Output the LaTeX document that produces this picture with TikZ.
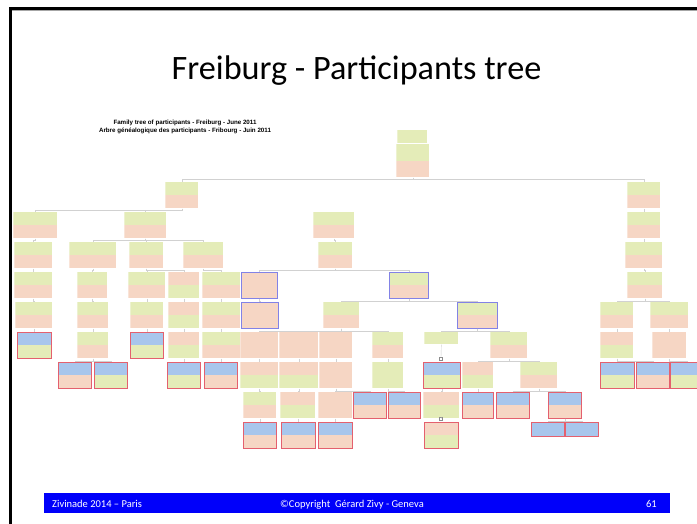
\documentclass[tikz,border=0pt]{standalone}
\usepackage{fontspec}
\setmainfont{Carlito}
\newfontfamily\arialfont{Liberation Sans}
\usepackage{tikz}

\definecolor{grn}{RGB}{228,236,184}
\definecolor{sal}{RGB}{246,214,196}
\definecolor{blu}{RGB}{168,198,236}
\definecolor{rosered}{RGB}{228,96,110}
\definecolor{lil}{RGB}{130,130,230}
\definecolor{barblue}{RGB}{0,0,250}

\tikzset{
  card/.style n args={3}{anchor=north west, inner sep=0pt, minimum height=26pt,
    draw=#3, line width=0.7pt,
    path picture={
      \fill[#1] (path picture bounding box.north west) rectangle (path picture bounding box.east);
      \fill[#2] (path picture bounding box.west) rectangle (path picture bounding box.south east);
    }},
  gs/.style={card={grn}{sal}{none}},
  sy/.style={card={sal}{grn}{none}},
  ss/.style={card={sal}{sal}{none}},
  gsp/.style={card={grn}{sal}{lil}},
  ssp/.style={card={sal}{sal}{lil}},
  bsr/.style={card={blu}{sal}{rosered}},
  byr/.style={card={blu}{grn}{rosered}},
  syr/.style={card={sal}{grn}{rosered}},
  wd/.style={minimum width=#1pt},
  link/.style={draw=black!18, line width=0.4pt},
  tick/.style={draw=black!45, line width=0.4pt, minimum size=3pt, inner sep=0pt},
  foot/.style={white, inner sep=0pt, font=\fontsize{10.5}{12}\selectfont}
}

\begin{document}
\begin{tikzpicture}[x=1pt,y=-1pt]
\useasboundingbox (0,0) rectangle (697,524);
\fill[white] (0,0) rectangle (697,524);
% Slide frame
\draw[black!35, line width=1pt] (12,11) -- (697,11);
\draw[line width=3.3pt] (10.7,524) -- (10.7,8.4) -- (697,8.4);
% Title
\node[anchor=base] (title) at (356.5,80) {\fontsize{34.2}{38}\selectfont Freiburg - Participants tree};
% Heading of the tree
\node[align=center, inner sep=0pt, font=\arialfont\bfseries\fontsize{6.2}{7.8}\selectfont] (head) at (185,127)
  {Family tree of participants - Freiburg - June 2011\\
   Arbre g\'en\'ealogique des participants - Fribourg - Juin 2011};
% Root
\node[card={grn}{grn}{none}, wd=30, minimum height=13pt] (r1) at (397,130) {};
\node[gs, wd=33, minimum height=33pt] (r2) at (396,144) {};
% Generation 1
\node[gs, wd=33] (g1a) at (165,182) {};
\node[gs, wd=33] (g1b) at (627,182) {};
% Generation 2
\node[gs, wd=44] (g2a) at (13,212) {};
\node[gs, wd=42] (g2b) at (124,212) {};
\node[gs, wd=41] (g2c) at (313,212) {};
\node[gs, wd=33] (g2d) at (627,212) {};
% Generation 3
\node[gs, wd=38] (g3a) at (14,242) {};
\node[gs, wd=47] (g3b) at (69,242) {};
\node[gs, wd=34] (g3c) at (129,242) {};
\node[gs, wd=40] (g3d) at (183,242) {};
\node[gs, wd=34] (g3e) at (318,242) {};
\node[gs, wd=37] (g3f) at (625,242) {};
% Generation 4
\node[gs, wd=38] (g4a) at (14,272) {};
\node[gs, wd=30] (g4b) at (77,272) {};
\node[gs, wd=37] (g4c) at (128,272) {};
\node[sy, wd=31] (g4d) at (168,272) {};
\node[gs, wd=38] (g4e) at (202,272) {};
\node[ssp, wd=36] (g4f) at (241,272) {};
\node[gsp, wd=39] (g4g) at (389,272) {};
\node[gs, wd=35] (g4h) at (627,272) {};
% Generation 5
\node[gs, wd=37] (g5a) at (15,302) {};
\node[gs, wd=31] (g5b) at (77,302) {};
\node[gs, wd=33] (g5c) at (130,302) {};
\node[sy, wd=31] (g5d) at (168,302) {};
\node[gs, wd=38] (g5e) at (202,302) {};
\node[ssp, wd=37] (g5f) at (241,302) {};
\node[gs, wd=36] (g5g) at (323,302) {};
\node[gsp, wd=40] (g5h) at (457,302) {};
\node[gs, wd=33] (g5i) at (600,302) {};
\node[gs, wd=38] (g5j) at (650,302) {};
% Generation 6
\node[byr, wd=34] (g6a) at (17,332) {};
\node[gs, wd=31] (g6b) at (77,332) {};
\node[byr, wd=33] (g6c) at (130,332) {};
\node[sy, wd=31] (g6d) at (168,332) {};
\node[gs, wd=38] (g6e) at (202,332) {};
\node[ss, wd=38] (g6f) at (240,332) {};
\node[ss, wd=39] (g6g) at (279,332) {};
\node[ss, wd=33] (g6h) at (319,332) {};
\node[gs, wd=31] (g6i) at (372,332) {};
\node[card={grn}{grn}{none}, wd=34, minimum height=12pt] (g6j) at (424,332) {};
\node[gs, wd=37] (g6k) at (490,332) {};
\node[sy, wd=33] (g6l) at (600,332) {};
\node[ss, wd=34] (g6m) at (652,332) {};
% Generation 7
\node[bsr, wd=33] (g7a) at (58,362) {};
\node[byr, wd=33] (g7b) at (94,362) {};
\node[byr, wd=33] (g7c) at (167,362) {};
\node[bsr, wd=33] (g7d) at (204,362) {};
\node[sy, wd=38] (g7e) at (240,362) {};
\node[sy, wd=39] (g7f) at (279,362) {};
\node[ss, wd=33] (g7g) at (319,362) {};
\node[card={grn}{grn}{none}, wd=31] (g7h) at (372,362) {};
\node[byr, wd=37] (g7i) at (423,362) {};
\node[sy, wd=31] (g7j) at (462,362) {};
\node[gs, wd=37] (g7k) at (520,362) {};
\node[byr, wd=34] (g7l) at (600,362) {};
\node[bsr, wd=33] (g7m) at (636,362) {};
\node[byr, wd=34] (g7n) at (670,362) {};
% Generation 8
\node[gs, wd=33] (g8a) at (243,392) {};
\node[sy, wd=35] (g8b) at (280,392) {};
\node[ss, wd=34] (g8c) at (318,392) {};
\node[bsr, wd=33] (g8d) at (353,392) {};
\node[bsr, wd=32] (g8e) at (388,392) {};
\node[sy, wd=36] (g8f) at (423,392) {};
\node[bsr, wd=31] (g8g) at (462,392) {};
\node[bsr, wd=33] (g8h) at (496,392) {};
\node[bsr, wd=33] (g8i) at (548,392) {};
% Generation 9
\node[bsr, wd=33] (g9a) at (243,422) {};
\node[bsr, wd=34] (g9b) at (281,422) {};
\node[bsr, wd=34] (g9c) at (318,422) {};
\node[syr, wd=34] (g9d) at (424,422) {};
\node[card={blu}{blu}{rosered}, wd=33, minimum height=14pt] (g9e) at (531,422) {};
\node[card={blu}{blu}{rosered}, wd=33, minimum height=14pt] (g9f) at (565,422) {};
% Small marks
\node[tick] (m1) at (441,359) {};
\node[tick] (m2) at (441,419) {};
% Links
\draw[link] (r2.south) -- ++(0,2) -| (g1a.north);
\draw[link] (r2.south) -- ++(0,2) -| (g1b.north);
\draw[link] (g1a.south) -- ++(0,2) -| (g2a.north);
\draw[link] (g1a.south) -- ++(0,2) -| (g2b.north);
\draw[link] (g1b.south) -- (g2d.north);
\draw[link] (g2a.south) -- ++(0,2) -| (g3a.north);
\draw[link] (g2b.south) -- ++(0,2) -| (g3b.north);
\draw[link] (g2b.south) -- ++(0,2) -| (g3c.north);
\draw[link] (g2b.south) -- ++(0,2) -| (g3d.north);
\draw[link] (g2c.south) -- ++(0,2) -| (g3e.north);
\draw[link] (g2d.south) -- (g3f.north);
\draw[link] (g3a.south) -- ++(0,2) -| (g4a.north);
\draw[link] (g3b.south) -- ++(0,2) -| (g4b.north);
\draw[link] (g3c.south) -- ++(0,2) -| (g4c.north);
\draw[link] (g3c.south) -- ++(0,2) -| (g4d.north);
\draw[link] (g3d.south) -- ++(0,2) -| (g4e.north);
\draw[link] (g3e.south) -- ++(0,2) -| (g4f.north);
\draw[link] (g3e.south) -- ++(0,2) -| (g4g.north);
\draw[link] (g3f.south) -- ++(0,2) -| (g4h.north);
\draw[link] (g4a.south) -- ++(0,2) -| (g5a.north);
\draw[link] (g4b.south) -- ++(0,2) -| (g5b.north);
\draw[link] (g4c.south) -- ++(0,2) -| (g5c.north);
\draw[link] (g4d.south) -- ++(0,2) -| (g5d.north);
\draw[link] (g4e.south) -- ++(0,2) -| (g5e.north);
\draw[link] (g4f.south) -- ++(0,2) -| (g5f.north);
\draw[link] (g4g.south) -- ++(0,2) -| (g5g.north);
\draw[link] (g4g.south) -- ++(0,2) -| (g5h.north);
\draw[link] (g4h.south) -- ++(0,2) -| (g5i.north);
\draw[link] (g4h.south) -- ++(0,2) -| (g5j.north);
\draw[link] (g5a.south) -- ++(0,2) -| (g6a.north);
\draw[link] (g5b.south) -- ++(0,2) -| (g6b.north);
\draw[link] (g5c.south) -- ++(0,2) -| (g6c.north);
\draw[link] (g5d.south) -- ++(0,2) -| (g6d.north);
\draw[link] (g5e.south) -- ++(0,2) -| (g6e.north);
\draw[link] (g5g.south) -- ++(0,2) -| (g6f.north);
\draw[link] (g5g.south) -- ++(0,2) -| (g6g.north);
\draw[link] (g5g.south) -- ++(0,2) -| (g6h.north);
\draw[link] (g5g.south) -- ++(0,2) -| (g6i.north);
\draw[link] (g5h.south) -- ++(0,2) -| (g6j.north);
\draw[link] (g5h.south) -- ++(0,2) -| (g6k.north);
\draw[link] (g5i.south) -- ++(0,2) -| (g6l.north);
\draw[link] (g5j.south) -- ++(0,2) -| (g6m.north);
\draw[link] (g6b.south) -- ++(0,2) -| (g7a.north);
\draw[link] (g6b.south) -- ++(0,2) -| (g7b.north);
\draw[link] (g6d.south) -- ++(0,2) -| (g7c.north);
\draw[link] (g6e.south) -- ++(0,2) -| (g7d.north);
\draw[link] (g6f.south) -- ++(0,2) -| (g7e.north);
\draw[link] (g6g.south) -- ++(0,2) -| (g7f.north);
\draw[link] (g6h.south) -- ++(0,2) -| (g7g.north);
\draw[link] (g6i.south) -- ++(0,2) -| (g7h.north);
\draw[link] (g6j.south) -- (m1.north);
\draw[link] (g6k.south) -- ++(0,2) -| (g7j.north);
\draw[link] (g6k.south) -- ++(0,2) -| (g7k.north);
\draw[link] (g6l.south) -- ++(0,2) -| (g7l.north);
\draw[link] (g6l.south) -- ++(0,2) -| (g7m.north);
\draw[link] (g6m.south) -- ++(0,2) -| (g7n.north);
\draw[link] (g7e.south) -- ++(0,2) -| (g8a.north);
\draw[link] (g7f.south) -- ++(0,2) -| (g8b.north);
\draw[link] (g7g.south) -- ++(0,2) -| (g8c.north);
\draw[link] (g7g.south) -- ++(0,2) -| (g8d.north);
\draw[link] (g7h.south) -- ++(0,2) -| (g8e.north);
\draw[link] (g7i.south) -- ++(0,2) -| (g8f.north);
\draw[link] (g7j.south) -- ++(0,2) -| (g8g.north);
\draw[link] (g7k.south) -- ++(0,2) -| (g8h.north);
\draw[link] (g7k.south) -- ++(0,2) -| (g8i.north);
\draw[link] (g8a.south) -- ++(0,2) -| (g9a.north);
\draw[link] (g8b.south) -- ++(0,2) -| (g9b.north);
\draw[link] (g8c.south) -- ++(0,2) -| (g9c.north);
\draw[link] (g8f.south) -- (m2.north);
\draw[link] (g8i.south) -- ++(0,2) -| (g9e.north);
\draw[link] (g8i.south) -- ++(0,2) -| (g9f.north);
% Footer
\fill[barblue] (44,493) rectangle (670,513);
\node[foot, anchor=base west] (fleft) at (52,507) {Zivinade 2014 -- Paris};
\node[foot, anchor=base] (fmid) at (352,507) {\textcopyright Copyright\ \ G\'erard Zivy - Geneva};
\node[foot, anchor=base east] (fright) at (657,507) {61};
\end{tikzpicture}
\end{document}
